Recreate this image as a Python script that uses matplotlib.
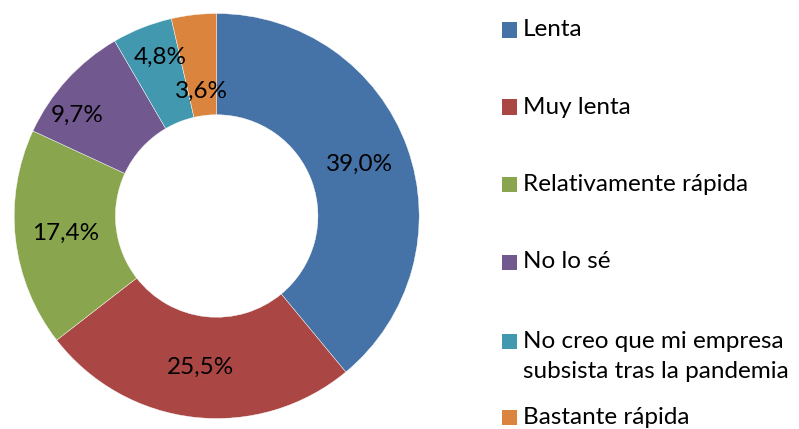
import matplotlib
matplotlib.use("Agg")
import matplotlib.pyplot as plt
import numpy as np
from matplotlib.patches import Rectangle

categories = ["Lenta", "Muy lenta", "Relativamente rápida", "No lo sé",
              "No creo que mi empresa\nsubsista tras la pandemia", "Bastante rápida"]
values = [39.0, 25.5, 17.4, 9.7, 4.8, 3.6]
labels = ["39,0%", "25,5%", "17,4%", "9,7%", "4,8%", "3,6%"]
colors = ["#4572A7", "#AA4643", "#89A54E", "#71588F", "#4198AF", "#DB843D"]

# label placement tweaks (radius fraction, angle offset in degrees)
label_r = [0.75, 0.75, 0.75, 0.85, 0.83, 0.62]
label_da = [0, 0, 0, 6.4, -1.9, 0.4]

W, H = 799, 429
fig = plt.figure(figsize=(W / 100, H / 100), dpi=100)
plt.rcParams['font.family'] = ['Lato', 'DejaVu Sans']
FS = 17.5

cx, cy, R = 216.7, 216.0, 202.5
ax = fig.add_axes([(cx - R) / W, (H - cy - R) / H, 2 * R / W, 2 * R / H])
wedges, _ = ax.pie(values, colors=colors, startangle=90, counterclock=False,
                   radius=1.0, wedgeprops=dict(width=0.5, edgecolor='white', linewidth=0.3))
ax.set_xlim(-1, 1)
ax.set_ylim(-1, 1)
ax.set_aspect('equal')
ax.axis('off')

for w, lab, r, da in zip(wedges, labels, label_r, label_da):
    ang = np.deg2rad((w.theta1 + w.theta2) / 2 + da)
    ax.text(r * np.cos(ang), r * np.sin(ang), lab, ha='center', va='center',
            fontsize=FS, color='black')

# manual legend
leg_y = [30, 107, 185, 262, 341, 417]
line_gap = 30
for cat, col, y in zip(categories, colors, leg_y):
    fig.add_artist(Rectangle((502 / W, 1 - (y + 7.5) / H), 15 / W, 15 / H,
                             transform=fig.transFigure, facecolor=col, edgecolor='none'))
    for i, line in enumerate(cat.split('\n')):
        fig.text(523 / W, 1 - (y + i * line_gap) / H, line, ha='left', va='center',
                 fontsize=FS, color='black')

fig.savefig("out.png", dpi=100)
